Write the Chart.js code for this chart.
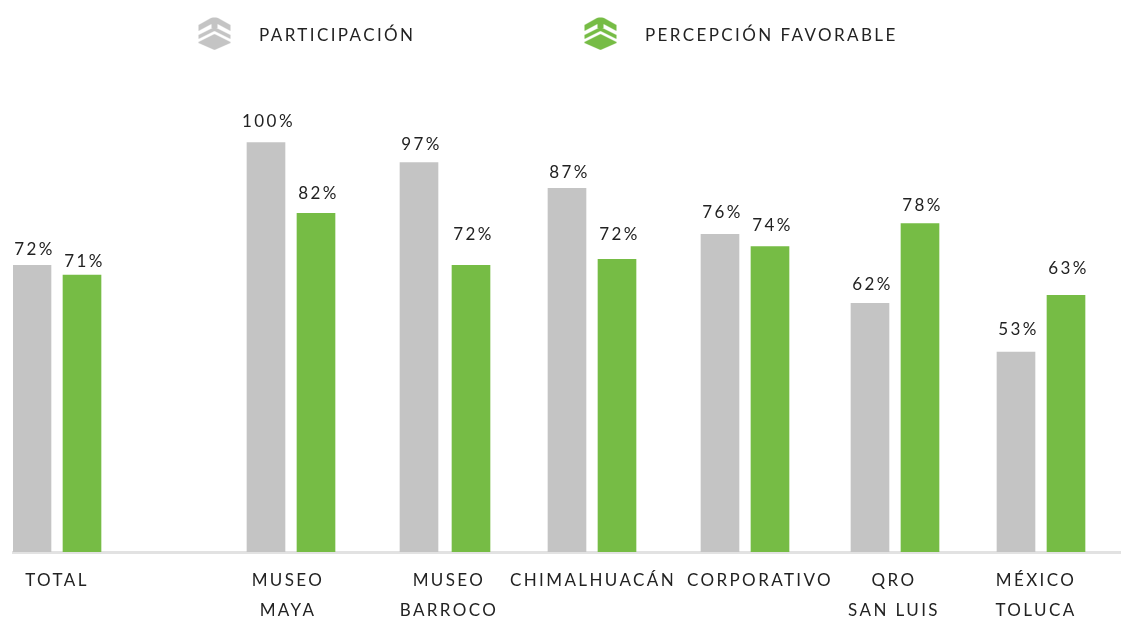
<!DOCTYPE html>
<html>
<head>
<meta charset="utf-8">
<script src="https://cdn.jsdelivr.net/npm/chart.js@4"></script>
<style>
  html, body { margin: 0; background: #fff; }
  canvas { display: block; }
</style>
</head>
<body>
<canvas id="chart" width="1122" height="617"></canvas>
<script>
const categories = [["TOTAL"], ["MUSEO", "MAYA"], ["MUSEO", "BARROCO"], ["CHIMALHUACÁN"], ["CORPORATIVO"], ["QRO", "SAN LUIS"], ["MÉXICO", "TOLUCA"]];
const seriesNames = ["PARTICIPACIÓN", "PERCEPCIÓN FAVORABLE"];
// bar heights as drawn in the picture (they differ a little from the printed labels)
const participacion = [70, 100, 95.1, 88.8, 77.6, 60.7, 48.8];
const percepcion = [67.6, 82.7, 70, 71.5, 74.6, 80.2, 62.7];
const participacionLabels = ["72%", "100%", "97%", "87%", "76%", "62%", "53%"];
const percepcionLabels = ["71%", "82%", "72%", "72%", "74%", "78%", "63%"];

// the groups are not evenly spaced in the original, so the x axis is linear
const grayX = [32, 266, 419, 567, 720, 870, 1016];
const greenX = [82, 316, 471, 617, 770, 920, 1066];
const tickX = [57, 288, 449, 593, 760, 894, 1036];
// how far each label sits above its bar, hand placed in the original
const grayLift = [16, 21, 18, 16, 22, 19, 23];
const greenLift = [14, 20, 31, 25, 21, 18, 27];

const GRAY = "#c4c4c4";
const GREEN = "#76bc45";
const FONT = "Lato";
const LEGEND_BOX = 211;

function makeIcon(color) {
  const c = document.createElement("canvas");
  c.width = LEGEND_BOX;
  c.height = 40;
  const g = c.getContext("2d");
  g.fillStyle = color;
  g.translate(LEGEND_BOX - 52, 0);
  const shapes = [
    [[16, 0], [32, 9], [32, 15], [19, 8], [19, 12], [13, 12], [13, 8], [0, 15], [0, 9]],
    [[16, 11], [32, 19], [32, 23], [16, 15], [0, 23], [0, 19]],
    [[16, 18], [32, 26], [32, 27], [16, 34], [0, 27], [0, 26]]
  ];
  shapes.forEach(pts => {
    g.beginPath();
    pts.forEach((p, i) => i ? g.lineTo(p[0], p[1]) : g.moveTo(p[0], p[1]));
    g.closePath();
    g.fill();
  });
  return c;
}

const spacingPlugin = {
  id: "spacing",
  afterInit(chart) {
    chart.ctx.letterSpacing = "2.4px";
  },
  afterLayout(chart) {
    // nudge the legend right, its start position can't be set by option
    chart.legend.left += 16.5;
    chart.legend.right += 16.5;
  }
};

const valueLabels = {
  id: "valueLabels",
  afterDatasetsDraw(chart) {
    const ctx = chart.ctx;
    const texts = [participacionLabels, percepcionLabels];
    const lifts = [grayLift, greenLift];
    ctx.save();
    ctx.font = "17px " + FONT;
    ctx.fillStyle = "#222";
    ctx.textAlign = "center";
    ctx.textBaseline = "middle";
    chart.data.datasets.forEach((ds, i) => {
      chart.getDatasetMeta(i).data.forEach((bar, j) => {
        ctx.fillText(texts[i][j], bar.x + 2.5, bar.y - lifts[i][j]);
      });
    });
    ctx.restore();
  }
};

new Chart(document.getElementById("chart"), {
  type: "bar",
  data: {
    datasets: [
      { label: seriesNames[0], data: participacion.map((v, i) => ({ x: grayX[i], y: v })), backgroundColor: GRAY },
      { label: seriesNames[1], data: percepcion.map((v, i) => ({ x: greenX[i], y: v })), backgroundColor: GREEN }
    ]
  },
  options: {
    responsive: false,
    animation: false,
    layout: { padding: { left: 13, right: 2, top: 17.5 } },
    datasets: { bar: { grouped: false, barThickness: 38 } },
    scales: {
      x: {
        type: "linear",
        offset: false,
        min: 13,
        max: 1120,
        afterBuildTicks(scale) {
          scale.ticks = tickX.map(v => ({ value: v }));
        },
        afterFit(scale) {
          scale.height = 65;
        },
        grid: { display: false, drawTicks: false },
        border: { display: true, color: "#e2e2e2", width: 3 },
        ticks: {
          autoSkip: false,
          maxRotation: 0,
          padding: 14,
          color: "#222",
          font: { family: FONT, size: 17, lineHeight: 1.76 },
          callback(value, index) {
            return categories[index];
          }
        }
      },
      y: { display: false, min: 0, max: 121.5 }
    },
    plugins: {
      tooltip: { enabled: false },
      legend: {
        position: "top",
        align: "start",
        labels: {
          usePointStyle: true,
          pointStyleWidth: LEGEND_BOX,
          padding: 10,
          color: "#222",
          font: { family: FONT, size: 17 },
          generateLabels() {
            return seriesNames.map((name, i) => ({
              text: name,
              pointStyle: makeIcon(i ? GREEN : GRAY),
              fontColor: "#222",
              lineWidth: 0,
              strokeStyle: "transparent",
              fillStyle: "transparent",
              datasetIndex: i
            }));
          }
        }
      }
    }
  },
  plugins: [spacingPlugin, valueLabels]
});
</script>
</body>
</html>
